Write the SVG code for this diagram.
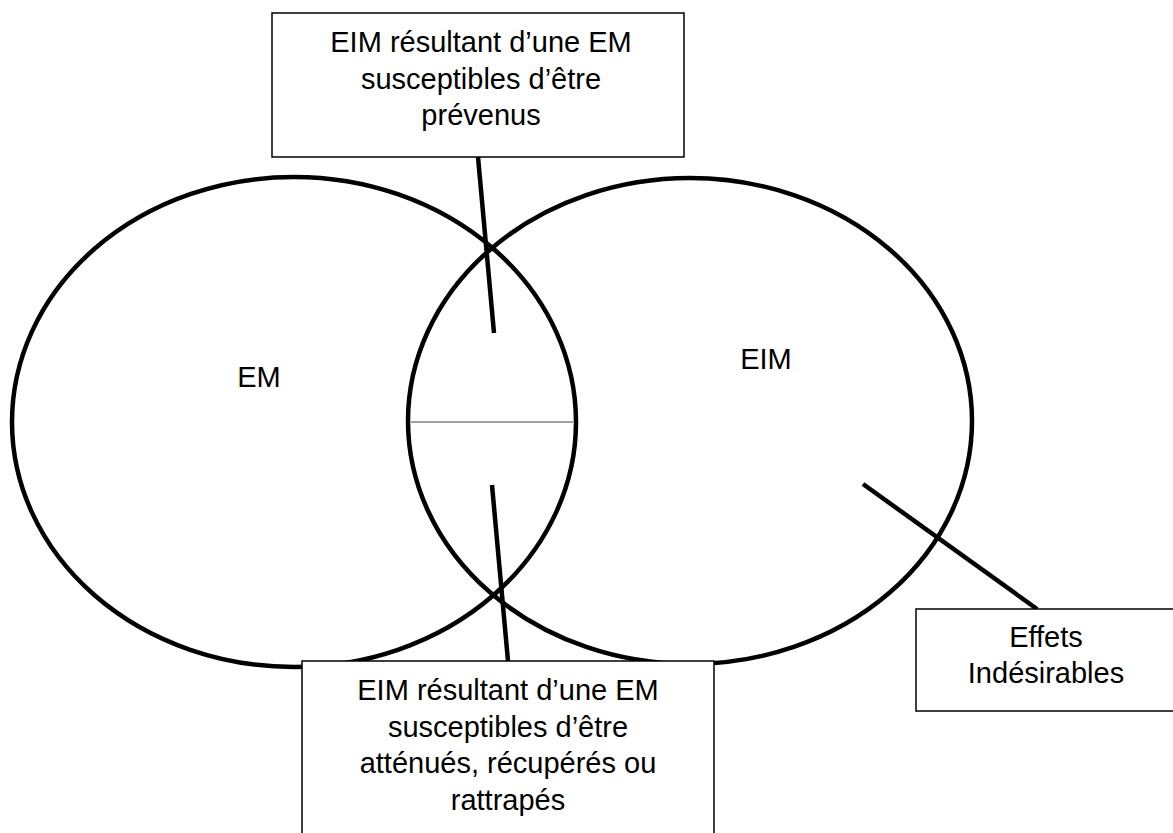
<svg xmlns="http://www.w3.org/2000/svg" width="1173" height="833" viewBox="0 0 1173 833">
<style>
.bg{fill:#ffffff}
.ell{fill:none;stroke:#000;stroke-width:4.5}
.box{fill:#ffffff;stroke:#000;stroke-width:1.5}
.con{stroke:#000;stroke-width:4.5;fill:none}
.div{stroke:#808080;stroke-width:1.5}
text{font-family:"Liberation Sans",Arial,sans-serif;font-size:29px;fill:#000;text-anchor:middle}
</style>
<rect class="bg" x="0" y="0" width="1173" height="833"/>
<g id="em">
<ellipse class="ell" cx="294" cy="422" rx="282" ry="245"/>
<text x="259" y="387">EM</text>
</g>
<g id="eim">
<ellipse class="ell" cx="690" cy="421" rx="282" ry="243"/>
<text x="766" y="369">EIM</text>
</g>
<g id="divider">
<line class="div" x1="411" y1="422" x2="573" y2="422"/>
</g>
<g id="connectors">
<line class="con" x1="478" y1="157" x2="494" y2="333"/>
<line class="con" x1="492" y1="485" x2="508" y2="661"/>
<line class="con" x1="863" y1="484" x2="1037" y2="609"/>
</g>
<g id="box-prevenus">
<rect class="box" x="272" y="13" width="412" height="144"/>
<text x="481" y="52">EIM résultant d’une EM</text>
<text x="481" y="88.5">susceptibles d’être</text>
<text x="481" y="125">prévenus</text>
</g>
<g id="box-attenues">
<rect class="box" x="302" y="661" width="412" height="190"/>
<text x="508" y="700">EIM résultant d’une EM</text>
<text x="508" y="736.5">susceptibles d’être</text>
<text x="508" y="773">atténués, récupérés ou</text>
<text x="508" y="809.5">rattrapés</text>
</g>
<g id="box-effets">
<rect class="box" x="916" y="609" width="270" height="102"/>
<text x="1046" y="647">Effets</text>
<text x="1046" y="683">Indésirables</text>
</g>
</svg>
